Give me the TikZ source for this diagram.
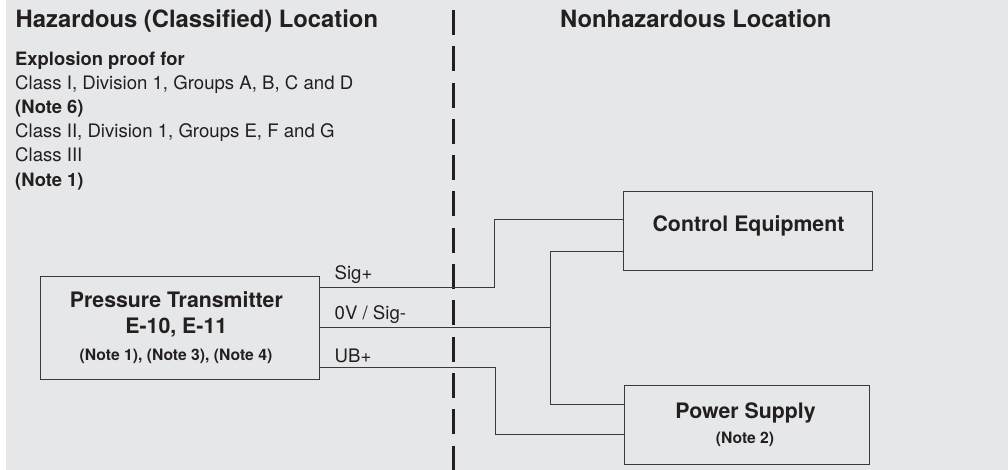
\documentclass[tikz,border=0pt]{standalone}
\usepackage{fontspec}
\setmainfont{TeX Gyre Heros}
\definecolor{bgc}{HTML}{E6E7E9}
\definecolor{ink}{HTML}{231F20}
\definecolor{wirec}{HTML}{3A3A3C}
\tikzset{
  x=1pt,y=-1pt,
  box/.style={draw=wirec,line width=1pt,fill=none,inner sep=0pt,anchor=north west,align=center,text=ink},
  wire/.style={draw=wirec,line width=1pt,line join=miter},
  txt/.style={anchor=base west,inner sep=0pt,text=ink},
  title/.style={txt,font=\fontsize{23.8}{28}\selectfont\bfseries},
  body/.style={txt,font=\fontsize{18.6}{22}\selectfont},
  bodyb/.style={txt,font=\fontsize{18.4}{22}\selectfont\bfseries},
  big/.style={txt,anchor=base,font=\fontsize{21.3}{25}\selectfont\bfseries},
  small/.style={txt,anchor=base,font=\fontsize{15.7}{19}\selectfont\bfseries},
  divider/.style={draw=ink,line width=2.2pt,dash pattern=on 25pt off 11.3pt}
}
\begin{document}
\begin{tikzpicture}
\useasboundingbox (0,0) rectangle (1008,470);
\fill[white] (0,0) rectangle (1008,470);
\fill[bgc] (6,0) rectangle (1008,470);
\node[title] (t1) at (15.5,27.5) {Hazardous (Classified) Location};
\node[title] (t2) at (560,27.5) {Nonhazardous Location};
\node[bodyb] (l1) at (15,65.5) {Explosion proof for};
\node[body] (l2) at (15,90) {Class I, Division 1, Groups A, B, C and D};
\node[bodyb] (l3) at (15,113.5) {(Note 6)};
\node[body] (l4) at (15,138) {Class II, Division 1, Groups E, F and G};
\node[body] (l5) at (15,162) {Class III};
\node[bodyb] (l6) at (15,187) {(Note 1)};
\draw[divider] (453.5,10) -- (453.5,470);
\node[box,minimum width=279.5pt,minimum height=103pt] (pt) at (39.5,275.5) {};
\node[box,minimum width=249pt,minimum height=78.5pt] (ce) at (623,191.5) {};
\node[box,minimum width=245pt,minimum height=79.5pt] (ps) at (623.5,384.5) {};
\node[big] (a1) at (176.3,307) {Pressure Transmitter};
\node[big] (a2) at (176.3,333) {E-10, E-11};
\node[small] (a3) at (176,360) {(Note 1), (Note 3), (Note 4)};
\node[big] (b1) at (748.5,232) {Control Equipment};
\node[big] (c1) at (745.5,418) {Power Supply};
\node[small] (c2) at (745,443) {(Note 2)};
\node[body] (s1) at (334.5,279) {Sig+};
\node[body] (s2) at (334.5,319.5) {0V / Sig-};
\node[body] (s3) at (334.5,362.5) {UB+};
\coordinate (j1) at (494,220);
\coordinate (j2) at (550,251.5);
\coordinate (j3) at (550,404);
\coordinate (j4) at (495,434.5);
\draw[wire] ([yshift=-11.5pt]pt.north east) -| (j1) -- ([yshift=-28.5pt]ce.north west);
\draw[wire] ([yshift=-51.5pt]pt.north east) -- ([yshift=-51.5pt]pt.north east -| j2);
\draw[wire] ([yshift=-60pt]ce.north west) -- (j2) -- (j3) -- ([yshift=-19.5pt]ps.north west);
\draw[wire] ([yshift=-92pt]pt.north east) -| (j4) -- ([yshift=-50pt]ps.north west);
\end{tikzpicture}
\end{document}
